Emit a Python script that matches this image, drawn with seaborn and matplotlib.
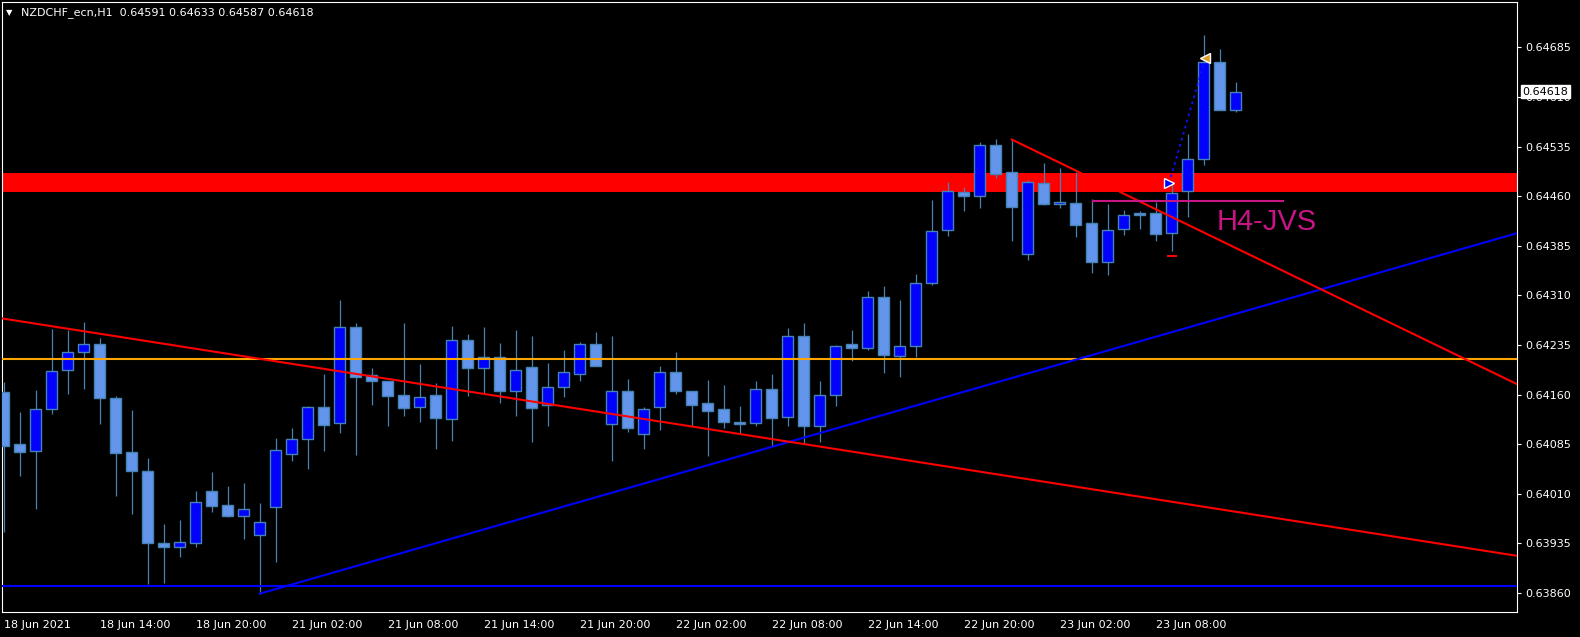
import matplotlib
matplotlib.use("Agg")
import matplotlib.pyplot as plt
import matplotlib.transforms as mtransforms
import numpy as np
import pandas as pd
import seaborn as sns

# NZDCHF H1 candles, 18 Jun 08:00 .. 23 Jun 13:00 (bar index 0..77)
opens = [0.64164, 0.64085, 0.64075, 0.64138, 0.64198, 0.64224, 0.64237, 0.64155, 0.64073, 0.64045,
         0.63936, 0.63930, 0.63936, 0.64014, 0.63993, 0.63977, 0.63948, 0.63990, 0.64071, 0.64093,
         0.64141, 0.64117, 0.64263, 0.64190, 0.64181, 0.64159, 0.64141, 0.64159, 0.64123, 0.64242,
         0.64201, 0.64217, 0.64165, 0.64202, 0.64145, 0.64171, 0.64192, 0.64237, 0.64115, 0.64165,
         0.64100, 0.64141, 0.64194, 0.64166, 0.64147, 0.64138, 0.64119, 0.64117, 0.64169, 0.64127,
         0.64249, 0.64112, 0.64159, 0.64237, 0.64231, 0.64308, 0.64219, 0.64234, 0.64329, 0.64409,
         0.64466, 0.64461, 0.64538, 0.64497, 0.64372, 0.64480, 0.64449, 0.64450, 0.64420, 0.64360,
         0.64410, 0.64433, 0.64435, 0.64404, 0.64468, 0.64516, 0.64663, 0.64591]
highs = [0.64179, 0.64134, 0.64167, 0.64259, 0.64258, 0.64270, 0.64246, 0.64158, 0.64137, 0.64064,
         0.63964, 0.63970, 0.64014, 0.64043, 0.64022, 0.64027, 0.63996, 0.64095, 0.64110, 0.64143,
         0.64191, 0.64303, 0.64268, 0.64200, 0.64181, 0.64268, 0.64206, 0.64178, 0.64264, 0.64252,
         0.64262, 0.64238, 0.64258, 0.64249, 0.64208, 0.64228, 0.64240, 0.64255, 0.64249, 0.64184,
         0.64141, 0.64203, 0.64225, 0.64166, 0.64182, 0.64175, 0.64143, 0.64181, 0.64191, 0.64261,
         0.64268, 0.64181, 0.64235, 0.64258, 0.64317, 0.64324, 0.64303, 0.64343, 0.64454, 0.64482,
         0.64474, 0.64542, 0.64547, 0.64546, 0.64485, 0.64510, 0.64503, 0.64497, 0.64456, 0.64448,
         0.64440, 0.64438, 0.64452, 0.64480, 0.64554, 0.64704, 0.64683, 0.64633]
lows = [0.63953, 0.64037, 0.63987, 0.64131, 0.64161, 0.64169, 0.64116, 0.64007, 0.63980, 0.63873,
        0.63876, 0.63914, 0.63929, 0.63982, 0.63975, 0.63942, 0.63859, 0.63907, 0.64060, 0.64048,
        0.64075, 0.64102, 0.64069, 0.64144, 0.64112, 0.64128, 0.64119, 0.64078, 0.64090, 0.64158,
        0.64162, 0.64148, 0.64128, 0.64089, 0.64112, 0.64157, 0.64181, 0.64204, 0.64060, 0.64104,
        0.64078, 0.64106, 0.64161, 0.64113, 0.64068, 0.64109, 0.64102, 0.64113, 0.64083, 0.64113,
        0.64087, 0.64089, 0.64143, 0.64211, 0.64227, 0.64193, 0.64186, 0.64217, 0.64326, 0.64400,
        0.64438, 0.64443, 0.64487, 0.64393, 0.64363, 0.64447, 0.64443, 0.64399, 0.64344, 0.64341,
        0.64402, 0.64410, 0.64393, 0.64378, 0.64428, 0.64508, 0.64591, 0.64587]
closes = [0.64082, 0.64073, 0.64138, 0.64196, 0.64224, 0.64236, 0.64155, 0.64072, 0.64044, 0.63936,
          0.63930, 0.63938, 0.63998, 0.63992, 0.63977, 0.63987, 0.63967, 0.64076, 0.64093, 0.64141,
          0.64114, 0.64263, 0.64186, 0.64180, 0.64158, 0.64140, 0.64156, 0.64124, 0.64242, 0.64201,
          0.64217, 0.64165, 0.64198, 0.64140, 0.64171, 0.64194, 0.64236, 0.64204, 0.64165, 0.64109,
          0.64139, 0.64194, 0.64166, 0.64145, 0.64136, 0.64118, 0.64116, 0.64168, 0.64124, 0.64249,
          0.64112, 0.64160, 0.64233, 0.64231, 0.64308, 0.64220, 0.64233, 0.64329, 0.64408, 0.64468,
          0.64461, 0.64538, 0.64494, 0.64444, 0.64481, 0.64449, 0.64452, 0.64417, 0.64360, 0.64409,
          0.64431, 0.64432, 0.64403, 0.64465, 0.64517, 0.64663, 0.64591, 0.64618]

time_ticks = [0, 6, 12, 18, 24, 30, 36, 42, 48, 54, 60, 66, 72]
time_labels = ["18 Jun 2021", "18 Jun 14:00", "18 Jun 20:00", "21 Jun 02:00", "21 Jun 08:00",
               "21 Jun 14:00", "21 Jun 20:00", "22 Jun 02:00", "22 Jun 08:00", "22 Jun 14:00",
               "22 Jun 20:00", "23 Jun 02:00", "23 Jun 08:00"]
price_ticks = [0.63860, 0.63935, 0.64010, 0.64085, 0.64160, 0.64235, 0.64310, 0.64385,
               0.64460, 0.64535, 0.64610, 0.64685]

# drawn objects
orange_level = 0.64214
blue_level = 0.63870
zone = (0.64467, 0.64495)
blue_trend = [(16, 0.63859), (48, 0.64081)]
red_trend = [(0, 0.64275), (48, 0.64093)]
red_steep = [(63, 0.64546), (77, 0.64382)]
jvs_level = 0.64453
jvs_span = (68.0, 80.0)
trade_open = (72.85, 0.64480)
trade_close = (75.1, 0.64669)
stop_mark = (73.0, 0.64369)

df = pd.DataFrame({"o": opens, "h": highs, "l": lows, "c": closes})
df["x"] = np.arange(len(df))
df["bull"] = df["c"] >= df["o"]

sns.set_theme(style="dark", rc={"axes.facecolor": "black", "figure.facecolor": "black",
                                "axes.edgecolor": "white", "xtick.color": "white",
                                "ytick.color": "white", "text.color": "white"})
plt.rcParams["font.family"] = ["DejaVu Sans"]

W, H = 1580, 637
fig = plt.figure(figsize=(W / 100, H / 100), dpi=100)
ax = fig.add_axes([2 / W, 1 - 612 / H, 1515 / W, 610 / H])
ax.set_facecolor("black")

xmin, xmax = -0.094, 94.59
ax.set_xlim(xmin, xmax)
ax.set_ylim(0.638314, 0.647538)

edge = "#4682B4"
# candles
ax.vlines(df["x"], df["l"], df["h"], color=edge, lw=0.9, zorder=3)
body_lo = df[["o", "c"]].min(axis=1)
body_h = (df["c"] - df["o"]).abs().clip(lower=0.00002)
fills = np.where(df["bull"], "#0000FF", "#6495ED")
ax.bar(df["x"], body_h, bottom=body_lo, width=0.69, color=fills, edgecolor=edge,
       linewidth=1.0, zorder=3.5)

# supply zone
ax.axhspan(zone[0], zone[1], color="#FF0000", lw=0, zorder=2)

# horizontal levels
ax.axhline(orange_level, color="#FFA500", lw=1.5, zorder=4)
ax.axhline(blue_level, color="#0000FF", lw=1.5, zorder=4)


def ray(p, q, x0, x1):
    slope = (q[1] - p[1]) / (q[0] - p[0])
    xs = np.array([x0, x1])
    return xs, p[1] + slope * (xs - p[0])


xs, ys = ray(*blue_trend, blue_trend[0][0], xmax)
sns.lineplot(x=xs, y=ys, ax=ax, color="#0000FF", lw=1.5, zorder=4)
xs, ys = ray(*red_trend, xmin, xmax)
sns.lineplot(x=xs, y=ys, ax=ax, color="#FF0000", lw=1.5, zorder=4)

# steep trendline, hidden where it crosses the zone
p, q = red_steep
slope = (q[1] - p[1]) / (q[0] - p[0])
x_in = p[0] + (zone[1] - p[1]) / slope
x_out = p[0] + (zone[0] - p[1]) / slope
for a, b in [(p[0], x_in), (x_out, xmax)]:
    xs, ys = ray(p, q, a, b)
    ax.plot(xs, ys, color="#FF0000", lw=1.5, zorder=4)

ax.hlines(jvs_level, jvs_span[0], jvs_span[1], color="#C71585", lw=1.5, zorder=4)
ax.text(75.8, 0.64409, "H4-JVS", color="#C71585", fontsize=21, family="Liberation Sans",
        va="baseline", ha="left", zorder=5)

# trade arrows
ax.plot([trade_open[0], trade_close[0]], [trade_open[1], trade_close[1]], color="#1010FF",
        lw=1.3, ls=(0, (1.5, 2)), zorder=5)
ax.plot(*trade_open, marker=">", ms=7, mfc="#0000FF", mec="white", mew=1, zorder=6)
ax.plot(*trade_close, marker="<", ms=7, mfc="#E0A030", mec="white", mew=1, zorder=6)
ax.plot(*stop_mark, marker="_", ms=7, mew=1.5, color="#FF0000", zorder=6)

# axes styling
for s in ax.spines.values():
    s.set_color("white")
    s.set_linewidth(0.8)
ax.grid(False)
ax.yaxis.tick_right()
ax.set_yticks(price_ticks)
ax.set_yticklabels([f"{v:.5f}" for v in price_ticks])
ax.set_xticks(time_ticks)
ax.set_xticklabels(time_labels, ha="left")
ax.tick_params(axis="both", colors="white", labelsize=8, length=3, width=0.8, direction="out")
ax.tick_params(axis="y", pad=3)
ax.tick_params(axis="x", pad=3)
ax.set_xlabel("")
ax.set_ylabel("")

# current price box (covers the 0.64610 scale label, as in the terminal)
trans = mtransforms.blended_transform_factory(ax.transAxes, ax.transData)
ax.annotate(f"{closes[-1]:.5f}", xy=(1.0, closes[-1]), xycoords=trans, xytext=(4, 0),
            textcoords="offset points", ha="left", va="center", fontsize=8, color="black",
            bbox=dict(boxstyle="square,pad=0.15", fc="white", ec="white"), zorder=10,
            annotation_clip=False)

# header
fig.text(6 / W, 1 - 13 / H, "\u25bc", fontsize=6, color="white", va="center", ha="left")
fig.text(21 / W, 1 - 13 / H,
         f"NZDCHF_ecn,H1  {opens[-1]:.5f} {highs[-1]:.5f} {lows[-1]:.5f} {closes[-1]:.5f}",
         fontsize=8, color="white", va="center", ha="left")

fig.savefig("out.png", dpi=100, facecolor="black")
